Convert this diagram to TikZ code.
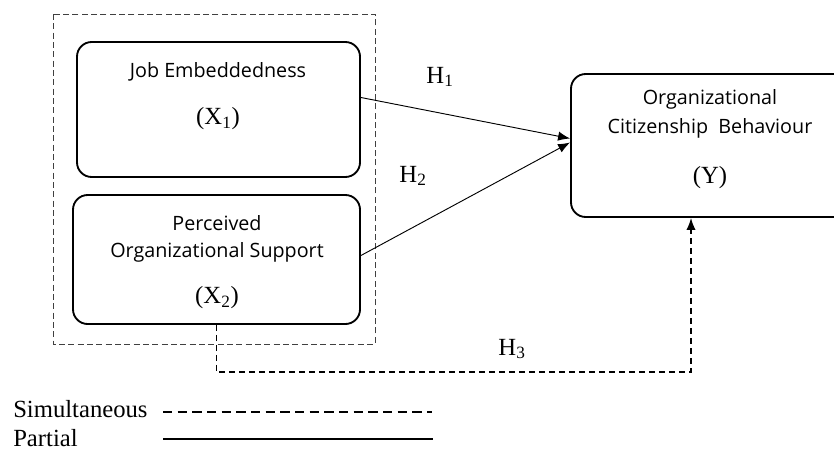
\documentclass[tikz,border=0pt]{standalone}
\usepackage{fontspec}
\setmainfont{Liberation Serif}
\newfontfamily\boxfont{Open Sans}
\usetikzlibrary{arrows.meta,calc,fit}

\begin{document}
\begin{tikzpicture}[x=0.75pt,y=-0.75pt,
 varbox/.style={draw,line width=1.4pt,rounded corners=11pt,inner sep=0pt},
 sanstxt/.style={font=\boxfont\fontsize{14.8}{17}\selectfont,inner sep=0pt},
 sertxt/.style={font=\fontsize{18.5}{21}\selectfont,inner sep=0pt},
 partial/.style={line width=0.7pt,-{Latex[length=9pt,width=7pt]}},
 simult/.style={line width=1.1pt,dash pattern=on 4.5pt off 3pt}]
 \useasboundingbox (0,0) rectangle (834,450);
 \clip (0,0) rectangle (834,450);
 % independent variables
 \draw[line width=0.6pt,black!75,dash pattern=on 4.5pt off 2.5pt] (53,14) rectangle (375,344);
 \node[varbox,fit={(77,42)(360,177)}] (je) {};
 \node[sanstxt] (jet) at (218,72) {Job Embeddedness};
 \node[sertxt] (jex) at (218,119) {(X\textsubscript{1})};
 \node[varbox,fit={(73,195)(360,324)}] (pos) {};
 \node[sanstxt] (post1) at (217,223) {Perceived};
 \node[sanstxt] (post2) at (217,252) {Organizational Support};
 \node[sertxt] (posx) at (217,298) {(X\textsubscript{2})};
 % dependent variable
 \node[varbox,fit={(571,74)(852,217)}] (ocb) {};
 \node[sanstxt] (ocbt1) at (710,99) {Organizational};
 \node[sanstxt] (ocbt2) at (710,128) {Citizenship\ \ Behaviour};
 \node[sertxt] (ocby) at (710,178) {(Y)};
 % hypotheses
 \draw[partial] ($(je.east)+(0,-12)$) -- ($(ocb.west)+(0,-7)$);
 \draw[partial] ($(pos.east)+(0,-4)$) -- ($(ocb.west)+(0,-3)$);
 \coordinate (h3) at (691,372);
 \draw[simult,-{Latex[length=9pt,width=7pt]}] (pos.south) |- (h3) -- (h3 |- ocb.south);
 \node[sertxt] (h1) at (440,77) {H\textsubscript{1}};
 \node[sertxt] (h2) at (413,176) {H\textsubscript{2}};
 \node[sertxt] (h3t) at (512,349) {H\textsubscript{3}};
 % legend
 \node[sertxt,anchor=base west] (sim) at (13,417) {Simultaneous};
 \node[sertxt,anchor=base west] (par) at (13,446) {Partial};
 \coordinate (s0) at (163,412); \coordinate (s1) at (432,412);
 \coordinate (p0) at (163,439); \coordinate (p1) at (433,439);
 \draw[line width=1.3pt,dash pattern=on 7pt off 4pt] (s0) -- (s1);
 \draw[line width=1.5pt] (p0) -- (p1);
\end{tikzpicture}
\end{document}
